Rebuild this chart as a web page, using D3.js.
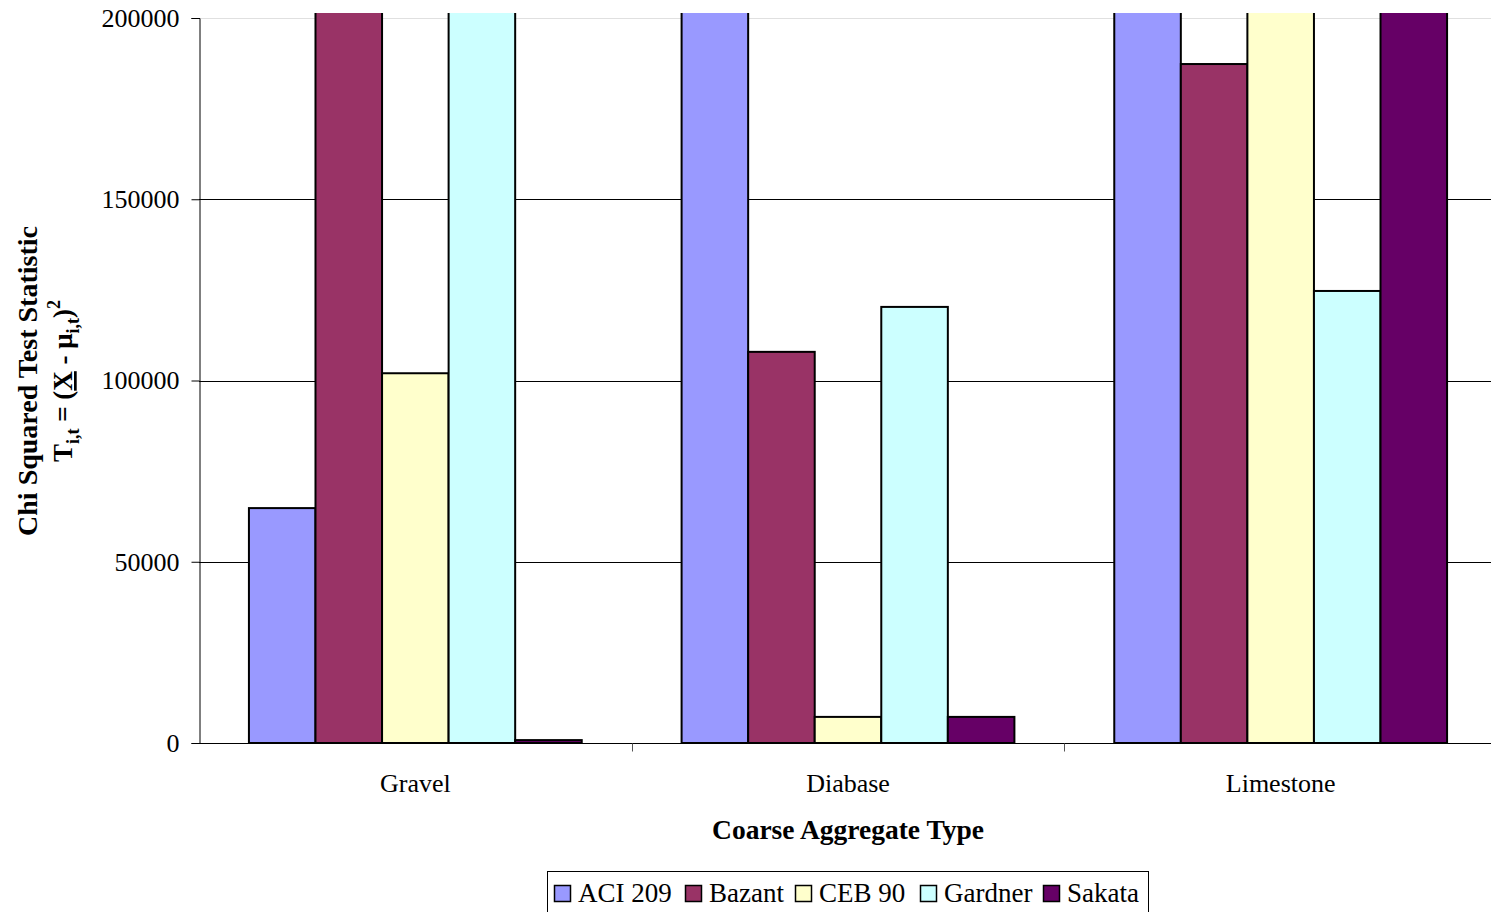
<!DOCTYPE html>
<html>
<head>
<meta charset="utf-8">
<script src="https://cdn.jsdelivr.net/npm/d3@7"></script>
<style>
  html, body { margin: 0; padding: 0; background: #fff; }
  svg { display: block; }
  svg text { font-family: "Liberation Serif", "Times New Roman", serif !important; }
</style>
</head>
<body>
<svg id="chart" width="1491" height="912"></svg>
<script>
// Coarse aggregate groups and model series
const categories = ["Gravel", "Diabase", "Limestone"];
const seriesNames = ["ACI 209", "Bazant", "CEB 90", "Gardner", "Sakata"];
const seriesColors = ["#9999FF", "#993366", "#FFFFCC", "#CCFFFF", "#660066"];

// Chi squared statistic per model (values above 200000 run off the top of the axis)
const aci209  = [64800, 260000, 260000];
const bazant  = [260000, 107900, 187300];
const ceb90   = [102000, 7200, 260000];
const gardner = [260000, 120300, 124700];
const sakata  = [800, 7200, 260000];
const seriesValues = [aci209, bazant, ceb90, gardner, sakata];

const yTicks = [0, 50000, 100000, 150000, 200000];

(function draw() {
  const svg = d3.select("#chart");
  const plotLeft = 199, plotRight = 1497, plotTop = 18, plotBottom = 743;

  const x0 = d3.scaleBand().domain(categories).range([plotLeft, plotRight]).paddingInner(0).paddingOuter(0);
  const groupPad = x0.bandwidth() * 0.1154; // gap between groups (about 150% of one bar)
  const x1 = d3.scaleBand().domain(seriesNames).range([groupPad, x0.bandwidth() - groupPad]).padding(0);
  const y = d3.scaleLinear().domain([0, 200000]).range([plotBottom, plotTop]);

  // gridlines
  svg.append("g").selectAll("line").data(yTicks.filter(d => d > 0)).join("line")
    .attr("x1", plotLeft).attr("x2", 1491)
    .attr("y1", d => Math.round(y(d)) + 0.5).attr("y2", d => Math.round(y(d)) + 0.5)
    .attr("stroke", d => d === 200000 ? "#e0e0e0" : "#000")
    .attr("stroke-width", 1);

  // bars, clipped slightly above the top of the value axis
  svg.append("defs").append("clipPath").attr("id", "plotClip")
    .append("rect").attr("x", plotLeft).attr("y", plotTop - 5)
    .attr("width", 1491 - plotLeft).attr("height", plotBottom - plotTop + 5);

  const rows = [];
  categories.forEach((c, ci) => seriesNames.forEach((s, si) => rows.push({ c, s, si, v: seriesValues[si][ci] })));

  svg.append("g").attr("clip-path", "url(#plotClip)")
    .selectAll("rect").data(rows).join("rect")
    .attr("x", d => x0(d.c) + x1(d.s))
    .attr("y", d => y(d.v))
    .attr("width", x1.bandwidth())
    .attr("height", d => y(0) - y(d.v))
    .attr("fill", d => seriesColors[d.si])
    .attr("stroke", "#000").attr("stroke-width", 2);

  // value axis
  const yAxis = svg.append("g").attr("transform", `translate(${plotLeft + 0.5},0)`)
    .call(d3.axisLeft(y).tickValues(yTicks).tickSize(8).tickPadding(12).tickFormat(d3.format("d")));
  yAxis.attr("font-family", null).attr("font-size", null);
  yAxis.select(".domain").attr("stroke", "#000").attr("stroke-width", 1);
  yAxis.selectAll(".tick line").attr("stroke", "#000");
  yAxis.selectAll(".tick text").attr("font-size", 26).attr("fill", "#000");

  // category axis
  const xAxisG = svg.append("g").attr("transform", `translate(0,${plotBottom + 0.5})`);
  xAxisG.append("line").attr("x1", plotLeft).attr("x2", 1491).attr("y1", 0).attr("y2", 0)
    .attr("stroke", "#000");
  xAxisG.selectAll("line.tk").data(categories.slice(1)).join("line").attr("class", "tk")
    .attr("x1", d => Math.round(x0(d)) + 0.5).attr("x2", d => Math.round(x0(d)) + 0.5)
    .attr("y1", 0).attr("y2", 8).attr("stroke", "#555");
  xAxisG.selectAll("text").data(categories).join("text")
    .attr("x", d => x0(d) + x0.bandwidth() / 2)
    .attr("y", 48).attr("text-anchor", "middle").attr("font-size", 26).attr("fill", "#000")
    .text(d => d);

  // axis titles
  svg.append("text").attr("x", 848).attr("y", 839).attr("text-anchor", "middle")
    .attr("font-size", 27.5).attr("font-weight", "bold").text("Coarse Aggregate Type");

  const yTitle = svg.append("g").attr("transform", "translate(0,381) rotate(-90)");
  yTitle.append("text").attr("x", 0).attr("y", 37).attr("text-anchor", "middle")
    .attr("font-size", 28).attr("font-weight", "bold").text("Chi Squared Test Statistic");
  const t2 = yTitle.append("text").attr("x", 0).attr("y", 72).attr("text-anchor", "middle")
    .attr("font-size", 27).attr("font-weight", "bold");
  t2.append("tspan").text("T");
  t2.append("tspan").attr("dy", 7).attr("font-size", 18).text("i,t");
  t2.append("tspan").attr("dy", -7).text(" = (");
  t2.append("tspan").attr("text-decoration", "underline").text("X");
  t2.append("tspan").text(" - \u03BC");
  t2.append("tspan").attr("dy", 7).attr("font-size", 18).text("i,t");
  t2.append("tspan").attr("dy", -7).text(")");
  t2.append("tspan").attr("dy", -12).attr("font-size", 18).text("2");

  // legend
  const legend = svg.append("g");
  legend.append("rect").attr("x", 547.5).attr("y", 871.5).attr("width", 601).attr("height", 50)
    .attr("fill", "#fff").attr("stroke", "#000");
  const legendX = [554, 685, 795, 920, 1043];
  seriesNames.forEach((s, i) => {
    legend.append("rect").attr("x", legendX[i] + 0.5).attr("y", 885.5).attr("width", 16).attr("height", 16)
      .attr("fill", seriesColors[i]).attr("stroke", "#000").attr("stroke-width", 1.5);
    legend.append("text").attr("x", legendX[i] + 24).attr("y", 902).attr("font-size", 27).text(s);
  });
})();
</script>
</body>
</html>
